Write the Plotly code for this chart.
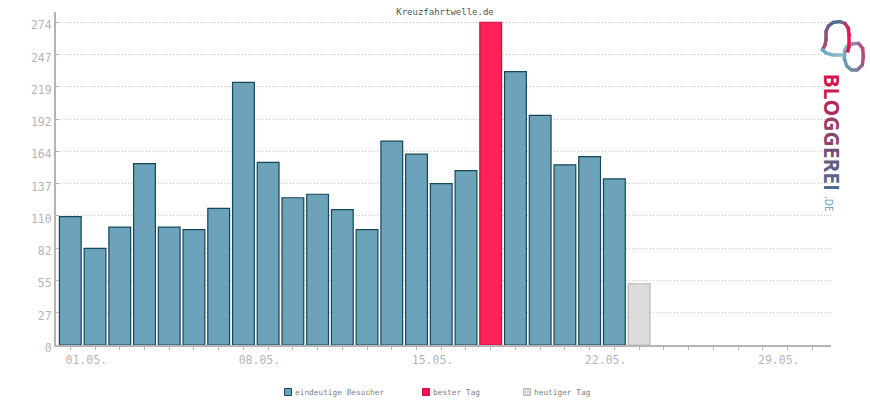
# Besucherstatistik Kreuzfahrtwelle.de
import math
import plotly.graph_objects as go

# Data
visitor_days = [1, 2, 3, 4, 5, 6, 7, 8, 9, 10, 11, 12, 13, 14, 15, 16, 17, 19, 20, 21, 22, 23]
visitor_values = [109, 82, 100, 154, 100, 98, 116, 223, 155, 125, 128, 115, 98, 173, 162, 137, 148,
                  232, 195, 153, 160, 141]
best_days = [18]
best_values = [274]
today_days = [24]
today_values = [52]
tick_days = list(range(1, 32))
tick_labels = {1: '01.05.', 8: '08.05.', 15: '15.05.', 22: '22.05.', 29: '29.05.'}
legend_names = ['eindeutige Besucher', 'bester Tag', 'heutiger Tag']

GREY = '#b5b5b5'
MONO = 'DejaVu Sans Mono'

# Page pixel -> paper, plot area is 56..831 / 12..345
def px(x):
    return (x - 56) / 775

def py(y):
    return (345 - y) / 333

fig = go.Figure()

fig.add_trace(go.Bar(x=visitor_days, y=visitor_values, width=0.88, name=legend_names[0], showlegend=False,
                     marker=dict(color='#6ca2ba', line=dict(color='#16465a', width=1.2))))
fig.add_trace(go.Bar(x=best_days, y=best_values, width=0.88, name=legend_names[1], showlegend=False,
                     marker=dict(color='#ff2158', line=dict(color='#c8103f', width=1.2))))
fig.add_trace(go.Bar(x=today_days, y=today_values, width=0.88, name=legend_names[2], showlegend=False,
                     marker=dict(color='#dcdcdc', line=dict(color=GREY, width=1.2))))

# Legend: small boxes and labels, drawn by hand since the plotly swatch is too far from its text
legend_x = [284, 422, 523]
legend_fill = ['#6ca2ba', '#ff0f4f', '#dcdcdc']
legend_edge = ['#16465a', '#c8103f', GREY]
for name, x, fill, edge in zip(legend_names, legend_x, legend_fill, legend_edge):
    fig.add_shape(type='rect', xref='paper', yref='paper', x0=px(x + 0.5), x1=px(x + 7.5), y0=py(388.5), y1=py(395.5),
                  fillcolor=fill, line=dict(color=edge, width=1))
    fig.add_annotation(text=name, showarrow=False, xref='paper', yref='paper', xanchor='left', yanchor='middle',
                       x=px(x + 9), y=py(392), font=dict(family=MONO, size=7.8, color='#808080'))

# Logo
bubble = [(128, 148), (135, 135), (138, 120), (138, 95), (145, 78), (160, 67), (180, 65),
          (195, 70), (205, 85), (207, 105), (207, 140), (203, 155)]
bubble_colors = ['#a84a70', '#a84a70', '#8a5078', '#7a5a80', '#5f6388', '#4a7090', '#6a6a8c',
                 '#c0305f', '#f0124f', '#f0124f', '#d81a52']
foot = [(125, 148), (140, 160), (160, 165), (190, 165)]
foot_colors = ['#6ea8bf', '#7ab0c6', '#8ab8cb']
ring = [(200, 140), (215, 132), (235, 130), (248, 145), (250, 170), (247, 195), (232, 210),
        (215, 210), (200, 198), (193, 175), (195, 150), (200, 140)]
ring_colors = ['#7fb0c5', '#8f8aa5', '#a85a85', '#b04a78', '#a85080', '#8f6a90', '#7a80a0',
               '#6a90a8', '#6a9ab5', '#70a5be', '#7fb0c5']

for points, colors in [(ring, ring_colors), (bubble, bubble_colors), (foot, foot_colors)]:
    for (x0, y0), (x1, y1), color in zip(points, points[1:], colors):
        # stretch each piece a little, the joints leave gaps otherwise
        length = math.hypot(x1 - x0, y1 - y0)
        dx, dy = (x1 - x0) / length * 2.5, (y1 - y0) / length * 2.5
        fig.add_shape(type='line', xref='paper', yref='paper', layer='above',
                      x0=px(780 + (x0 - dx) / 3), y0=py((y0 - dy) / 3),
                      x1=px(780 + (x1 + dx) / 3), y1=py((y1 + dy) / 3),
                      line=dict(color=color, width=3.5))

logo_letters = ['B', 'L', 'O', 'G', 'G', 'E', 'R', 'E', 'I']
logo_colors = ['#d8124f', '#c81c55', '#b0285e', '#9c3a68', '#8a4470', '#745078', '#625c82', '#56648a', '#4c6c90']
logo_text = ''.join(f'<span style="color:{c}">{l}</span>' for l, c in zip(logo_letters, logo_colors))
fig.add_annotation(text=logo_text, textangle=90, showarrow=False, xref='paper', yref='paper',
                   xanchor='center', yanchor='middle',
                   x=px(832), y=py(132.5), font=dict(family='Open Sans', size=21, weight='bold'))
fig.add_annotation(text='.DE', textangle=90, showarrow=False, xref='paper', yref='paper',
                   xanchor='center', yanchor='middle',
                   x=px(829), y=py(203), font=dict(family='Open Sans', size=10, color='#5f9ab5'))

fig.update_layout(
    width=870, height=400, autosize=False,
    paper_bgcolor='white', plot_bgcolor='white',
    margin=dict(l=56, r=39, t=12, b=55, autoexpand=False),
    barmode='overlay',
    showlegend=False,
    title=dict(text='Kreuzfahrtwelle.de', x=445 / 870, xanchor='center', y=1 - 12 / 400, yanchor='middle',
               font=dict(family=MONO, size=9, color='#555555')),
    xaxis=dict(range=[0.422, 31.76], tickmode='array', tickvals=tick_days,
               ticktext=[tick_labels.get(d, '') for d in tick_days],
               showgrid=False, zeroline=False, showline=True, linecolor=GREY, linewidth=2,
               ticks='outside', ticklen=3, tickwidth=1, tickcolor=GREY, ticklabelshift=16,
               tickfont=dict(family=MONO, size=11.5, color=GREY)),
    yaxis=dict(range=[0, 282.7], tick0=0, dtick=27.4, tickformat='.0f',
               showgrid=True, gridcolor='#c8c8c8', griddash='1px,2px', gridwidth=1,
               zeroline=False, showline=True, linecolor=GREY, linewidth=2,
               ticks='inside', ticklen=3, tickwidth=1, tickcolor=GREY, ticklabelshift=3,
               tickfont=dict(family=MONO, size=11.5, color=GREY)),
)

# body margin would push the whole chart 8px away from the corner
fig.write_html("out.html", config={'displayModeBar': False},
               post_script="document.body.style.margin='0';")
